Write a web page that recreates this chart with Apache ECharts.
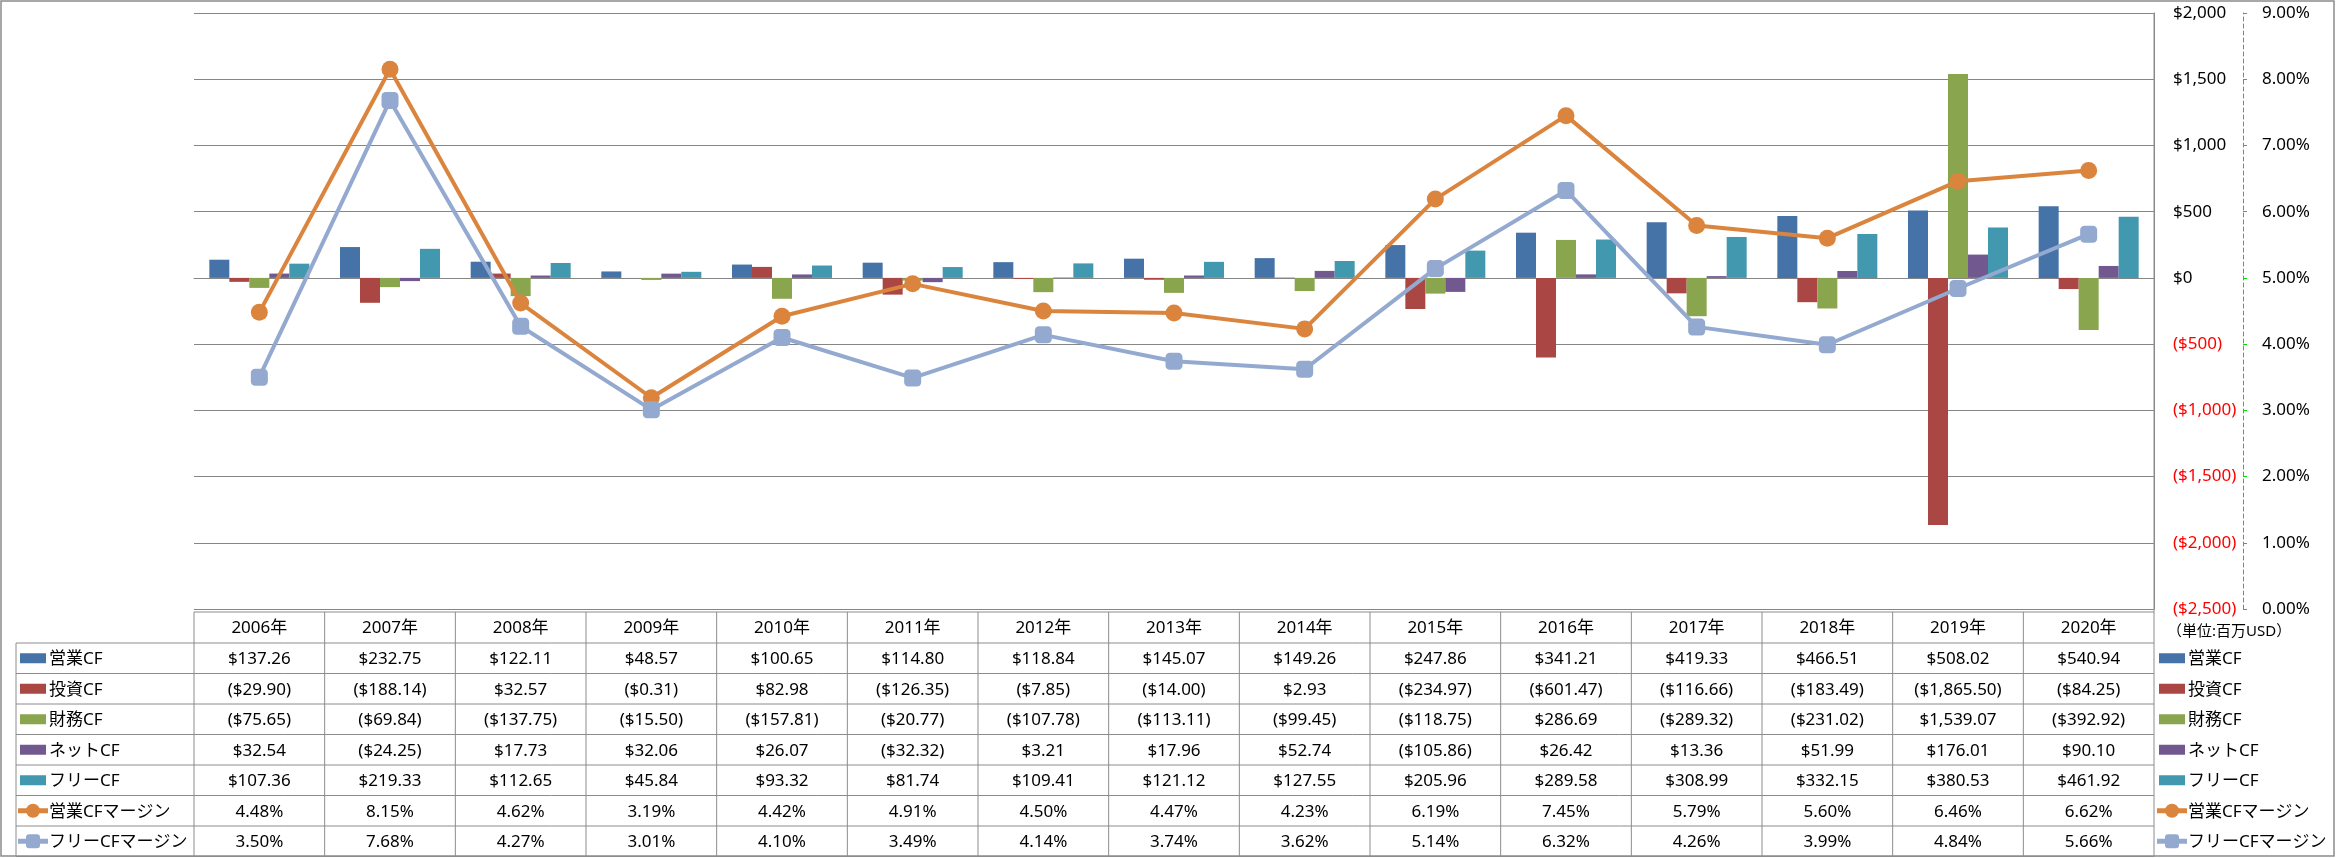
<!DOCTYPE html>
<html>
<head>
<meta charset="utf-8">
<script src="https://cdn.jsdelivr.net/npm/echarts@6/dist/echarts.min.js"></script>
<style>
html,body{margin:0;padding:0;background:#fff;}
#chart{width:2336px;height:858px;}
</style>
</head>
<body>
<div id="chart"></div>
<script>
// ---------- data ----------
const years = ['2006年','2007年','2008年','2009年','2010年','2011年','2012年','2013年','2014年','2015年','2016年','2017年','2018年','2019年','2020年'];
const opCF   = [137.26,232.75,122.11,48.57,100.65,114.80,118.84,145.07,149.26,247.86,341.21,419.33,466.51,508.02,540.94];
const invCF  = [-29.90,-188.14,32.57,-0.31,82.98,-126.35,-7.85,-14.00,2.93,-234.97,-601.47,-116.66,-183.49,-1865.50,-84.25];
const finCF  = [-75.65,-69.84,-137.75,-15.50,-157.81,-20.77,-107.78,-113.11,-99.45,-118.75,286.69,-289.32,-231.02,1539.07,-392.92];
const netCF  = [32.54,-24.25,17.73,32.06,26.07,-32.32,3.21,17.96,52.74,-105.86,26.42,13.36,51.99,176.01,90.10];
const freeCF = [107.36,219.33,112.65,45.84,93.32,81.74,109.41,121.12,127.55,205.96,289.58,308.99,332.15,380.53,461.92];
const opMargin   = [4.48,8.15,4.62,3.19,4.42,4.91,4.50,4.47,4.23,6.19,7.45,5.79,5.60,6.46,6.62];
const freeMargin = [3.50,7.68,4.27,3.01,4.10,3.49,4.14,3.74,3.62,5.14,6.32,4.26,3.99,4.84,5.66];
const seriesNames = ['営業CF','投資CF','財務CF','ネットCF','フリーCF','営業CFマージン','フリーCFマージン'];
const unitLabel = '（単位:百万USD）';
// axis ranges
const leftMin = -2500, leftMax = 2000, leftStep = 500;
const rightMin = 0, rightMax = 9, rightStep = 1;

// ---------- style ----------
const colors = ['#4572A7','#AA4643','#89A54E','#71588F','#4198AF','#DB843D','#93A9CF'];
const FONT = "'Noto Sans', 'Noto Sans CJK JP', sans-serif";
const FS = 17;
const GRID = {left:194, right:182, top:13, bottom:249};
const gridColor = '#868686';

function money(v){
  const s = Math.abs(v).toLocaleString('en-US',{minimumFractionDigits:2, maximumFractionDigits:2});
  return v < 0 ? '($' + s + ')' : '$' + s;
}
function moneyAxis(v){
  const s = Math.abs(v).toLocaleString('en-US');
  return v < 0 ? '($' + s + ')' : '$' + s;
}
function pct(v){ return v.toFixed(2) + '%'; }

const chart = echarts.init(document.getElementById('chart'), null, {renderer:'canvas'});

const barData = [opCF, invCF, finCF, netCF, freeCF];
const series = barData.map((d,i)=>({
  name: seriesNames[i], type:'bar', data:d, yAxisIndex:0,
  barWidth:20, barGap:'0%',
  itemStyle:{color:colors[i]}
}));
series.push({
  name: seriesNames[5], type:'line', data:opMargin, yAxisIndex:1,
  symbol:'circle', symbolSize:17,
  lineStyle:{color:colors[5], width:4},
  itemStyle:{color:colors[5]}
});
series.push({
  name: seriesNames[6], type:'line', data:freeMargin, yAxisIndex:1,
  symbol:'roundRect', symbolSize:17,
  lineStyle:{color:colors[6], width:4},
  itemStyle:{color:colors[6]}
});

chart.setOption({
  animation:false,
  backgroundColor:'#fff',
  textStyle:{fontFamily:FONT},
  grid:GRID,
  xAxis:{
    type:'category', data:years,
    axisLabel:{show:false}, axisTick:{show:false},
    axisLine:{show:true, onZero:true, lineStyle:{color:gridColor, width:1}},
    splitLine:{show:false}
  },
  yAxis:[
    {
      type:'value', position:'right', min:leftMin, max:leftMax, interval:leftStep,
      axisLine:{show:true, lineStyle:{color:gridColor, width:1}},
      axisTick:{show:false},
      splitLine:{show:true, lineStyle:{color:gridColor, width:1}},
      axisLabel:{
        margin:19, fontSize:FS, fontFamily:FONT,
        formatter:v=>moneyAxis(v),
        color:(v)=> Number(v) < 0 ? '#FF0000' : '#000000'
      }
    },
    {
      type:'value', position:'right', offset:89, min:rightMin, max:rightMax, interval:rightStep,
      axisLine:{show:true, lineStyle:{color:'#00DD00', width:1, type:[4,3]}},
      axisTick:{show:true, length:4, lineStyle:{color:'#00DD00', width:1}},
      splitLine:{show:false},
      axisLabel:{margin:19, fontSize:FS, fontFamily:FONT, color:'#000', formatter:v=>pct(v)}
    }
  ],
  series:series
});

// ---------- data table + legends ----------
const plotLeft = GRID.left, plotRight = 2336 - GRID.right;
const colW = (plotRight - plotLeft) / years.length;
const headerTop = 612, rowTop0 = 643, rowH = 30.5, nRows = 7;
const tableBottom = rowTop0 + rowH*nRows;
const tblLeft = 16;
const lineCol = '#8C8C8C';
const g = [];

function hline(x1,x2,y){ g.push({type:'line', shape:{x1:x1,y1:y,x2:x2,y2:y}, style:{stroke:lineCol, lineWidth:1}, z:10}); }
function vline(x,y1,y2){ g.push({type:'line', shape:{x1:x,y1:y1,x2:x,y2:y2}, style:{stroke:lineCol, lineWidth:1}, z:10}); }
function txt(x,y,s,align,size,color){ g.push({type:'text', x:x, y:y, style:{text:s, fill:color||'#000', font:(size||FS)+'px '+FONT, align:align||'center', verticalAlign:'middle'}, z:11}); }

// outer chart border
g.push({type:'rect', shape:{x:1, y:1, width:2333, height:855}, style:{fill:'none', stroke:lineCol, lineWidth:1.5}, z:9});

// table lines
hline(plotLeft, plotRight, headerTop);
for(let r=0;r<=nRows;r++) hline(tblLeft, plotRight, rowTop0 + r*rowH);
vline(tblLeft, rowTop0, tableBottom);
for(let c=0;c<=years.length;c++){
  const x = plotLeft + c*colW;
  vline(x, c===years.length ? GRID.top : headerTop, tableBottom);
}

// header + values
const rows = [opCF.map(money), invCF.map(money), finCF.map(money), netCF.map(money), freeCF.map(money), opMargin.map(pct), freeMargin.map(pct)];
years.forEach((y,i)=>{
  const cx = chart.convertToPixel({xAxisIndex:0}, i);
  txt(cx, (headerTop+rowTop0)/2+1, y);
  rows.forEach((row,r)=>{ txt(cx, rowTop0 + r*rowH + rowH/2 + 1, row[i]); });
});

// legend keys
function legendKey(x, yc, idx){
  if(idx < 5){
    g.push({type:'rect', shape:{x:x, y:yc-5, width:26, height:10}, style:{fill:colors[idx]}, z:11});
  } else {
    g.push({type:'line', shape:{x1:x-2, y1:yc, x2:x+28, y2:yc}, style:{stroke:colors[idx], lineWidth:5}, z:11});
    if(idx===5){
      g.push({type:'circle', shape:{cx:x+13, cy:yc, r:7}, style:{fill:colors[idx]}, z:12});
    } else {
      g.push({type:'rect', shape:{x:x+6, y:yc-7, width:14, height:14, r:3}, style:{fill:colors[idx]}, z:12});
    }
  }
}
seriesNames.forEach((n,r)=>{
  const yc = rowTop0 + r*rowH + rowH/2;
  legendKey(20, yc, r);
  txt(49, yc+1, n, 'left');
  legendKey(2159, yc, r);
  txt(2188, yc+1, n, 'left');
});
txt(2167, 632, unitLabel, 'left', 15);

chart.setOption({graphic:g});
</script>
</body>
</html>
